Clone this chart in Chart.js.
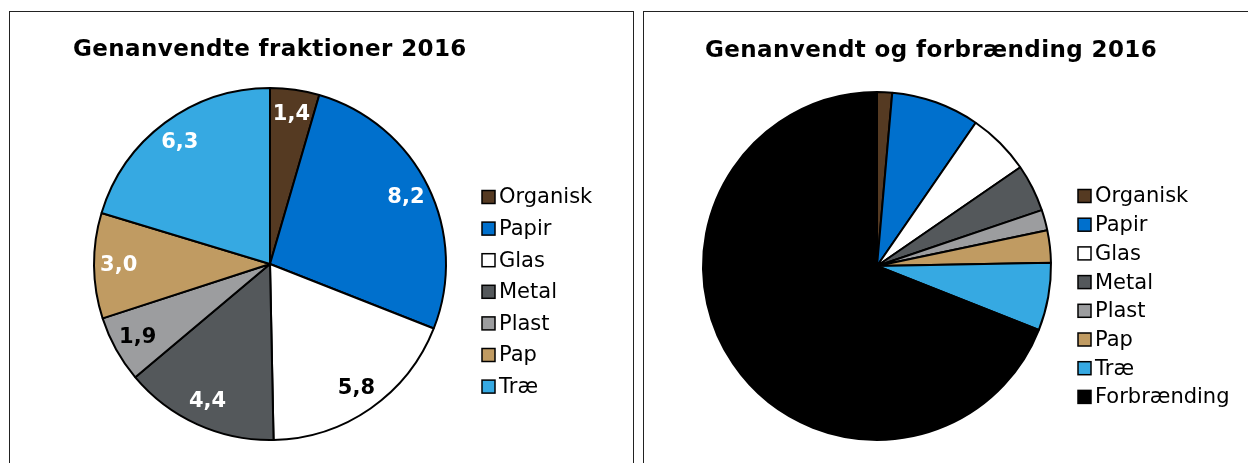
<!DOCTYPE html>
<html>
<head>
<meta charset="utf-8">
<script src="https://cdn.jsdelivr.net/npm/chart.js@4/dist/chart.umd.min.js"></script>
<style>
  html, body { margin: 0; padding: 0; background: #fff; overflow: hidden; }
  .panel { position: absolute; top: 11px; height: 480px; border: 1px solid #222; background: #fff; }
  #leftPanel { left: 9px; width: 623px; }
  #rightPanel { left: 643px; width: 620px; }
  canvas { display: block; }
</style>
</head>
<body>
<div class="panel" id="leftPanel"><canvas id="fractionChart" width="623" height="470"></canvas></div>
<div class="panel" id="rightPanel"><canvas id="totalChart" width="618" height="470"></canvas></div>
<script>
// 데이터
const fractionLabels = ['Organisk', 'Papir', 'Glas', 'Metal', 'Plast', 'Pap', 'Træ'];
const fractionValues = [1.4, 8.2, 5.8, 4.4, 1.9, 3.0, 6.3];
const totalLabels = ['Organisk', 'Papir', 'Glas', 'Metal', 'Plast', 'Pap', 'Træ', 'Forbrænding'];
const totalValues = [1.4, 8.2, 5.8, 4.4, 1.9, 3.0, 6.3, 69.0];

const sliceColors = ['#553a22', '#0070cd', '#ffffff', '#54585b', '#9c9d9f', '#c09b62', '#36a9e2', '#000000'];
const valueTextColors = ['#fff', '#fff', '#000', '#fff', '#000', '#fff', '#fff'];

Chart.defaults.font.family = '"DejaVu Sans", Verdana, sans-serif';

// 제목 + 범례 그리기
const panelText = {
    id: 'panelText',
    afterDraw(chart, args, opts) {
        const ctx = chart.ctx;
        const ds = chart.data.datasets[0];
        ctx.save();
        ctx.fillStyle = '#000';
        ctx.font = 'bold 23px "DejaVu Sans"';
        ctx.letterSpacing = '0.4px';
        ctx.textBaseline = 'alphabetic';
        ctx.textAlign = 'left';
        ctx.fillText(opts.title, opts.titleX, opts.titleY);
        ctx.letterSpacing = '0px';

        ctx.font = '21px "DejaVu Sans"';
        ctx.textBaseline = 'middle';
        chart.data.labels.forEach((label, i) => {
            const y = opts.legendY + i * opts.legendStep;
            ctx.fillStyle = ds.backgroundColor[i];
            ctx.fillRect(opts.legendX, y - 6.5, 13, 13);
            ctx.strokeStyle = '#000';
            ctx.lineWidth = 1.5;
            ctx.strokeRect(opts.legendX, y - 6.5, 13, 13);
            ctx.fillStyle = '#000';
            ctx.fillText(label, opts.legendX + 17, y + 1);
        });
        ctx.restore();
    }
};

// 조각 값 라벨
const sliceValues = {
    id: 'sliceValues',
    afterDatasetsDraw(chart, args, opts) {
        if (!opts.show) return;
        const ctx = chart.ctx;
        const meta = chart.getDatasetMeta(0);
        const values = chart.data.datasets[0].data;
        ctx.save();
        ctx.font = 'bold 21px "DejaVu Sans"';
        ctx.textAlign = 'center';
        ctx.textBaseline = 'middle';
        meta.data.forEach((arc, i) => {
            const p = arc.getProps(['x', 'y', 'startAngle', 'endAngle', 'outerRadius'], true);
            const mid = (p.startAngle + p.endAngle) / 2;
            const r = p.outerRadius * 0.86;
            ctx.fillStyle = opts.colors[i];
            ctx.fillText(values[i].toFixed(1).replace('.', ','), p.x + Math.cos(mid) * r, p.y + Math.sin(mid) * r);
        });
        ctx.restore();
    }
};

function makePie(canvasId, labels, values, radius, padding, textOpts, valueOpts) {
    const ctx = document.getElementById(canvasId).getContext('2d');
    return new Chart(ctx, {
        type: 'pie',
        data: {
            labels: labels,
            datasets: [{
                data: values,
                backgroundColor: sliceColors.slice(0, values.length),
                borderColor: '#000',
                borderWidth: 2,
                radius: radius
            }]
        },
        options: {
            responsive: false,
            animation: false,
            devicePixelRatio: 1,
            radius: radius,
            layout: { padding: padding },
            events: [],
            plugins: {
                legend: { display: false },
                tooltip: { enabled: false },
                title: { display: false },
                panelText: textOpts,
                sliceValues: valueOpts
            }
        },
        plugins: [panelText, sliceValues]
    });
}

makePie('fractionChart', fractionLabels, fractionValues, 176,
    { left: 0, right: 103, top: 34, bottom: 0 },
    { title: 'Genanvendte fraktioner 2016', titleX: 63, titleY: 44, legendX: 472, legendY: 185, legendStep: 31.6 },
    { show: true, colors: valueTextColors });

makePie('totalChart', totalLabels, totalValues, 174,
    { left: 0, right: 152, top: 38, bottom: 0 },
    { title: 'Genanvendt og forbrænding 2016', titleX: 61, titleY: 45, legendX: 434, legendY: 184, legendStep: 28.7 },
    { show: false, colors: [] });
</script>
</body>
</html>
